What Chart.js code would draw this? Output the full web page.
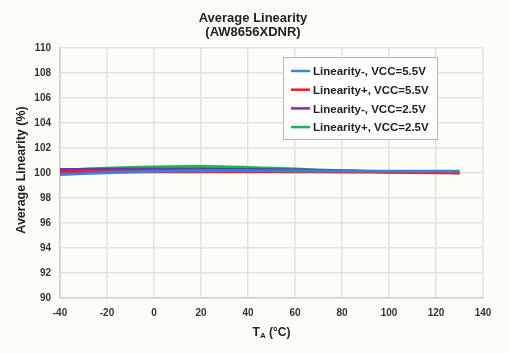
<!DOCTYPE html>
<html>
<head>
<meta charset="utf-8">
<script src="https://cdn.jsdelivr.net/npm/chart.js@4.4.0/dist/chart.umd.min.js"></script>
<style>
  html, body { margin: 0; padding: 0; background: #fdfdf8; }
  #wrap { width: 509px; height: 353px; position: relative; }
</style>
</head>
<body>
<div id="wrap"><canvas id="c" width="509" height="353"></canvas></div>
<script>
// temperature points (°C)
var temps = [-40, -20, 0, 20, 40, 60, 80, 100, 120, 130];

var seriesNames = [
  'Linearity-, VCC=5.5V',
  'Linearity+, VCC=5.5V',
  'Linearity-, VCC=2.5V',
  'Linearity+, VCC=2.5V'
];
var seriesColors = ['#3f7fd6', '#ff1a1a', '#7a2eb0', '#1cb554'];

var linMinus55 = [99.88, 100.02, 100.14, 100.18, 100.18, 100.17, 100.15, 100.14, 100.14, 100.14];
var linPlus55  = [100.08, 100.10, 100.10, 100.10, 100.10, 100.09, 100.08, 100.05, 100.02, 100.00];
var linMinus25 = [100.28, 100.30, 100.30, 100.30, 100.29, 100.25, 100.18, 100.10, 100.04, 100.02];
var linPlus25  = [100.22, 100.38, 100.48, 100.52, 100.45, 100.32, 100.18, 100.08, 100.03, 100.02];

var yTicks = [90, 92, 94, 96, 98, 100, 102, 104, 106, 108, 110];
var xTicks = [-40, -20, 0, 20, 40, 60, 80, 100, 120, 140];

var allSeries = [linMinus55, linPlus55, linMinus25, linPlus25];

function toPoints(vals) {
  return vals.map(function(v, i) { return { x: temps[i], y: v }; });
}

var datasets = allSeries.map(function(vals, i) {
  return {
    label: seriesNames[i],
    data: toPoints(vals),
    borderColor: seriesColors[i],
    backgroundColor: seriesColors[i],
    borderWidth: 2.8,
    pointRadius: 0,
    tension: 0.4,
    fill: false
  };
});

var font = 'Arial, "Liberation Sans", sans-serif';

// titles, axis titles and the boxed legend inside the plot
var decorations = {
  id: 'decorations',
  afterDraw: function(chart) {
    var ctx = chart.ctx;
    var area = chart.chartArea;
    ctx.save();
    ctx.fillStyle = '#222';
    ctx.textAlign = 'center';
    ctx.textBaseline = 'middle';
    ctx.font = 'bold 13px ' + font;
    ctx.fillText('Average Linearity', 253, 18);
    ctx.fillText('(AW8656XDNR)', 253, 32);

    // y axis title
    ctx.save();
    ctx.translate(22, 170);
    ctx.rotate(-Math.PI / 2);
    ctx.font = 'bold 12.5px ' + font;
    ctx.fillText('Average Linearity (%)', 0, 0);
    ctx.restore();

    // x axis title with subscript
    var cx = (area.left + area.right) / 2;
    ctx.textAlign = 'left';
    ctx.font = 'bold 12px ' + font;
    var wT = ctx.measureText('T').width;
    ctx.font = 'bold 8px ' + font;
    var wA = ctx.measureText('A').width;
    ctx.font = 'bold 12px ' + font;
    var rest = ' (°C)';
    var wR = ctx.measureText(rest).width;
    var x0 = cx - (wT + wA + wR) / 2;
    ctx.fillText('T', x0, 333);
    ctx.font = 'bold 8px ' + font;
    ctx.fillText('A', x0 + wT, 336);
    ctx.font = 'bold 12px ' + font;
    ctx.fillText(rest, x0 + wT + wA, 333);

    // legend box
    var bx = 283, by = 57, bw = 154, bh = 82;
    ctx.fillStyle = '#ffffff';
    ctx.fillRect(bx, by, bw, bh);
    ctx.strokeStyle = '#b5b5b5';
    ctx.lineWidth = 1;
    ctx.strokeRect(bx + 0.5, by + 0.5, bw, bh);
    ctx.font = 'bold 11.5px ' + font;
    chart.data.datasets.forEach(function(ds, i) {
      var ly = by + 14 + i * 18.7;
      ctx.strokeStyle = ds.borderColor;
      ctx.lineWidth = 2.5;
      ctx.beginPath();
      ctx.moveTo(bx + 8, ly);
      ctx.lineTo(bx + 27, ly);
      ctx.stroke();
      ctx.fillStyle = '#222';
      ctx.fillText(ds.label, bx + 30, ly + 1);
    });
    ctx.restore();
  }
};

new Chart(document.getElementById('c').getContext('2d'), {
  type: 'line',
  data: { datasets: datasets },
  options: {
    responsive: false,
    animation: false,
    layout: { padding: { top: 48, right: 26, left: 0, bottom: 0 } },
    plugins: {
      legend: { display: false },
      title: { display: false },
      tooltip: { enabled: false }
    },
    scales: {
      x: {
        type: 'linear',
        min: -40,
        max: 140,
        afterBuildTicks: function(scale) {
          scale.ticks = xTicks.map(function(v) { return { value: v }; });
        },
        afterFit: function(scale) { scale.height = 55; },
        grid: { color: '#e2e2e2', lineWidth: 1.5, drawTicks: false },
        border: { color: '#d0d0d0', width: 1.5 },
        ticks: {
          padding: 9,
          color: '#333',
          font: { family: font, size: 10, weight: 'bold' }
        }
      },
      y: {
        min: 90,
        max: 110,
        afterBuildTicks: function(scale) {
          scale.ticks = yTicks.map(function(v) { return { value: v }; });
        },
        afterFit: function(scale) { scale.width = 60; },
        grid: { color: '#e2e2e2', lineWidth: 1.5, drawTicks: false },
        border: { color: '#d0d0d0', width: 1.5 },
        ticks: {
          padding: 9,
          color: '#333',
          font: { family: font, size: 10, weight: 'bold' }
        }
      }
    }
  },
  plugins: [decorations]
});
</script>
</body>
</html>
